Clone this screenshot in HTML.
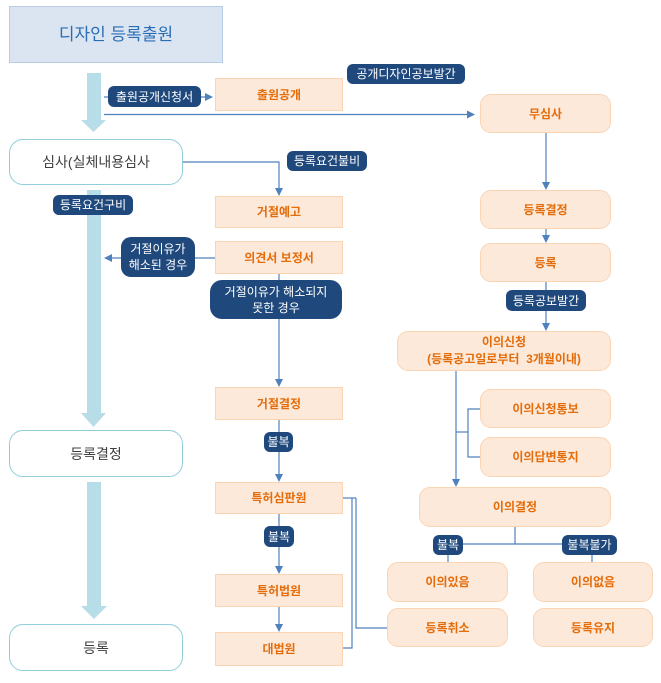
<!DOCTYPE html>
<html><head><meta charset="utf-8">
<style>
html,body{margin:0;padding:0;background:#fff;}
body{width:661px;height:683px;position:relative;overflow:hidden;font-family:"Liberation Sans","Noto Sans CJK KR",sans-serif;}
.b{position:absolute;box-sizing:border-box;display:flex;align-items:center;justify-content:center;text-align:center;}
.p{background:#fde9d9;border:1px solid #fbd4b4;color:#e46c0a;font-size:12px;font-weight:bold;line-height:16px;}
.r{border-radius:11px;}
.w{background:#fff;border:1px solid #92cddc;border-radius:14px;color:#404040;font-size:14px;line-height:18px;}
.n{background:#1f497d;color:#fff;font-size:12px;line-height:16px;border-radius:6px;white-space:nowrap;}
svg{position:absolute;left:0;top:0;}
</style></head><body>
<svg width="661" height="683" viewBox="0 0 661 683">
<g fill="#b7dde8">
<rect x="87" y="73" width="14" height="48"/><polygon points="81,120 106,120 93.5,132"/>
<rect x="87" y="190" width="14" height="224"/><polygon points="81,413 106,413 93.5,427"/>
<rect x="87" y="482" width="14" height="125"/><polygon points="81,606 107,606 94,619"/>
</g>
<g stroke="#4f81bd" stroke-width="1.2" fill="none">
<polyline points="104,97 207,97"/>
<polyline points="104,114.5 474,114.5"/>
<polyline points="183,162 279,162 279,189"/>
<polyline points="215,258 111,258"/>
<polyline points="279,274 279,380"/>
<polyline points="279,420 279,475"/>
<polyline points="279,514 279,567"/>
<polyline points="279,607 279,625"/>
<polyline points="343,498 356,498"/>
<polyline points="352,498 352,648 343,648"/>
<polyline points="356,498 356,628 387,628"/>
<polyline points="546,133 546,183"/>
<polyline points="546,229 546,236"/>
<polyline points="546,282 546,324"/>
<polyline points="456,371 456,480"/>
<polyline points="456,432 468,432"/>
<polyline points="480,409 468,409 468,457 480,457"/>
<polyline points="515,527 515,544"/>
<polyline points="448,544 592,544"/>
<polyline points="448,550 448,562"/>
<polyline points="592,550 592,562"/>
</g>
<g fill="#4f81bd">
<polygon points="205,93 213,97 205,101"/>
<polygon points="467,110.5 475,114.5 467,118.5"/>
<polygon points="275,188 283,188 279,196"/>
<polygon points="112,254 104,258 112,262"/>
<polygon points="275,379 283,379 279,387"/>
<polygon points="275,474 283,474 279,482"/>
<polygon points="275,566 283,566 279,574"/>
<polygon points="275,624 283,624 279,632"/>
<polygon points="542,182 550,182 546,190"/>
<polygon points="542,235 550,235 546,243"/>
<polygon points="542,323 550,323 546,331"/>
<polygon points="452,479 460,479 456,487"/>
</g>
</svg>

<div class="b" style="left:9px;top:6px;width:214px;height:57px;background:#dbe5f1;border:1px solid #b8cce4;color:#2a6db5;font-size:17px;line-height:22px;">디자인 등록출원</div>

<div class="b w" style="left:9px;top:139px;width:174px;height:46px;">심사(실체내용심사</div>
<div class="b w" style="left:9px;top:430px;width:174px;height:47px;">등록결정</div>
<div class="b w" style="left:9px;top:624px;width:174px;height:47px;">등록</div>

<div class="b p" style="left:215px;top:78px;width:128px;height:33px;">출원공개</div>
<div class="b p" style="left:215px;top:196px;width:128px;height:32px;">거절예고</div>
<div class="b p" style="left:215px;top:241px;width:128px;height:33px;">의견서 보정서</div>
<div class="b p" style="left:215px;top:387px;width:128px;height:33px;">거절결정</div>
<div class="b p" style="left:215px;top:482px;width:128px;height:32px;">특허심판원</div>
<div class="b p" style="left:215px;top:574px;width:128px;height:33px;">특허법원</div>
<div class="b p" style="left:215px;top:632px;width:128px;height:34px;">대법원</div>

<div class="b p r" style="left:480px;top:94px;width:131px;height:39px;">무심사</div>
<div class="b p r" style="left:480px;top:190px;width:131px;height:39px;">등록결정</div>
<div class="b p r" style="left:480px;top:243px;width:131px;height:39px;">등록</div>
<div class="b p r" style="left:397px;top:331px;width:214px;height:40px;line-height:17px;">이의신청<br>(등록공고일로부터&nbsp; 3개월이내)</div>
<div class="b p r" style="left:480px;top:389px;width:131px;height:39px;">이의신청통보</div>
<div class="b p r" style="left:480px;top:437px;width:131px;height:40px;">이의답변통지</div>
<div class="b p r" style="left:419px;top:487px;width:192px;height:40px;">이의결정</div>
<div class="b p r" style="left:387px;top:562px;width:121px;height:40px;">이의있음</div>
<div class="b p r" style="left:533px;top:562px;width:120px;height:40px;">이의없음</div>
<div class="b p r" style="left:387px;top:608px;width:121px;height:39px;">등록취소</div>
<div class="b p r" style="left:533px;top:608px;width:120px;height:39px;">등록유지</div>

<div class="b n" style="left:108px;top:86px;width:93px;height:21px;">출원공개신청서</div>
<div class="b n" style="left:347px;top:64px;width:118px;height:20px;">공개디자인공보발간</div>
<div class="b n" style="left:287px;top:151px;width:80px;height:20px;">등록요건불비</div>
<div class="b n" style="left:53px;top:195px;width:80px;height:20px;">등록요건구비</div>
<div class="b n" style="left:121px;top:237px;width:74px;height:40px;border-radius:10px;">거절이유가<br>해소된 경우</div>
<div class="b n" style="left:210px;top:280px;width:132px;height:39px;border-radius:12px;">거절이유가 해소되지<br>못한 경우</div>
<div class="b n" style="left:264px;top:432px;width:29px;height:20px;">불복</div>
<div class="b n" style="left:264px;top:526px;width:30px;height:21px;">불복</div>
<div class="b n" style="left:506px;top:290px;width:80px;height:21px;">등록공보발간</div>
<div class="b n" style="left:433px;top:535px;width:30px;height:20px;">불복</div>
<div class="b n" style="left:562px;top:535px;width:55px;height:20px;">불복불가</div>
</body></html>
